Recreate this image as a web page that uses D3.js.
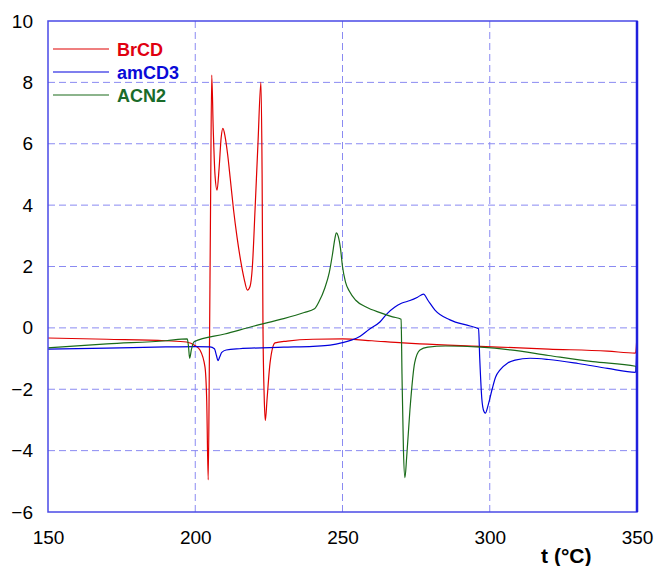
<!DOCTYPE html>
<meta charset="utf-8">
<script src="https://d3js.org/d3.v7.min.js"></script>
<style>
  body { margin: 0; background: #fff; }
  text { font-family: "Liberation Sans", Arial, sans-serif; }
</style>
<div id="my_dataviz"></div>
<script>
// tick labels
var xTicks = [150, 200, 250, 300, 350];
var yTicks = [-6, -4, -2, 0, 2, 4, 6, 8, 10];

// series names
var seriesNames = ["BrCD", "amCD3", "ACN2"];

// BrCD (red) - [t, value]
var brcd = [
  [150, -0.33], [170, -0.37], [190, -0.42], [197, -0.46], [200, -0.58], [201.6, -0.72],
  [203.3, -1.27], [203.9, -2.4], [204.4, -4.95], [204.8, -1.0], [205.2, 4.0], [205.6, 8.24],
  [206.1, 6.5], [206.7, 5.0], [207.4, 4.49], [208.1, 5.2], [208.8, 6.2], [209.4, 6.5],
  [210.1, 6.25], [211.0, 5.65], [211.9, 4.85], [213.0, 3.85], [214.2, 2.95], [215.4, 2.2],
  [216.6, 1.6], [217.7, 1.23], [218.6, 1.35], [219.4, 2.0], [220.3, 3.84], [221.3, 6.02],
  [222.3, 8.0], [222.7, 5.0], [223.0, 0.0],
  [223.4, -2.2], [223.8, -3.02], [224.4, -2.3], [225.4, -1.14], [227.1, -0.49], [231.2, -0.43],
  [240, -0.37], [250, -0.36], [260, -0.42], [270.5, -0.49], [276.3, -0.52], [296.7, -0.6],
  [320, -0.69], [340, -0.76], [349.5, -0.82], [350, -0.25]
];

// amCD3 (blue)
var amcd3 = [
  [150, -0.69], [170, -0.66], [190, -0.62], [200, -0.61], [205, -0.62], [206.5, -0.68],
  [207.2, -0.9], [207.7, -1.07], [208.3, -0.95], [209, -0.8], [210.5, -0.72], [215, -0.68],
  [230, -0.63], [240, -0.6], [245.8, -0.56], [250, -0.48], [253, -0.4], [256, -0.27],
  [259, -0.05], [262.7, 0.19], [265, 0.45], [267.8, 0.68], [270, 0.8], [272.9, 0.89],
  [275.5, 1.0], [277.5, 1.1], [279.0, 0.9], [281.4, 0.58], [286.5, 0.26], [293.3, 0.06],
  [296.2, -0.03], [296.6, -1.0], [297.3, -2.3], [298.0, -2.72], [298.5, -2.78], [299.5, -2.5],
  [300.8, -2.0], [302, -1.6], [303.5, -1.37], [306, -1.15], [308.6, -1.05], [313.7, -0.99],
  [320, -1.03], [330, -1.16], [340, -1.32], [349.5, -1.45], [350, -0.35]
];

// ACN2 (green)
var acn2 = [
  [150, -0.65], [170, -0.52], [190, -0.42], [197.3, -0.36], [197.7, -0.6], [198.1, -0.99],
  [198.7, -0.7], [199.6, -0.45], [210, -0.2], [220, 0.06], [230, 0.3], [237, 0.5],
  [240.5, 0.62], [242, 0.85], [244, 1.3], [245.5, 1.8], [246.6, 2.4], [247.4, 2.9],
  [247.9, 3.1], [248.5, 3.0], [249.3, 2.6], [250.0, 2.0], [251, 1.5], [252.3, 1.2],
  [254.5, 0.9], [258, 0.68], [263, 0.49], [267, 0.36], [269.9, 0.28], [270.2, -1.5],
  [270.7, -4.0], [271.2, -4.88], [271.8, -4.2], [272.9, -2.67], [274.5, -1.14], [276.3, -0.72],
  [279, -0.63], [285, -0.59], [297, -0.63], [307, -0.72], [320, -0.9], [335, -1.1],
  [349.5, -1.25], [350, -1.55]
];

var colors = ["#e00000", "#0000dd", "#1a6b1a"];
var textColors = ["#e00010", "#0a0ad8", "#1a6b2a"];

// dimensions
var margin = {top: 21, right: 19, bottom: 54, left: 48},
    width = 656 - margin.left - margin.right,
    height = 566 - margin.top - margin.bottom;

var svg = d3.select("#my_dataviz")
  .append("svg")
    .attr("width", 656)
    .attr("height", 566)
  .append("g")
    .attr("transform", "translate(" + margin.left + "," + margin.top + ")");

var x = d3.scaleLinear().domain([150, 350]).range([0, width]);
var y = d3.scaleLinear().domain([-6, 10]).range([height, 0]);

// gridlines
svg.append("g")
  .selectAll("line.vgrid")
  .data(xTicks.slice(1, -1))
  .enter().append("line")
    .attr("x1", function(d) { return x(d); })
    .attr("x2", function(d) { return x(d); })
    .attr("y1", 0).attr("y2", height)
    .attr("stroke", "#8a8af2")
    .attr("stroke-width", 1)
    .attr("stroke-dasharray", "7,4");

svg.append("g")
  .selectAll("line.hgrid")
  .data(yTicks.slice(1, -1))
  .enter().append("line")
    .attr("x1", 0).attr("x2", width)
    .attr("y1", function(d) { return y(d); })
    .attr("y2", function(d) { return y(d); })
    .attr("stroke", "#8a8af2")
    .attr("stroke-width", 1)
    .attr("stroke-dasharray", "7,4");

// axes labels (built from scales, domain lines hidden)
var yAxis = svg.append("g")
  .call(d3.axisLeft(y).tickValues(yTicks).tickSize(0).tickPadding(15));
yAxis.select(".domain").remove();
yAxis.selectAll("text").attr("font-size", "19px").attr("fill", "#000")
  .style("font-family", "'Liberation Sans', Arial, sans-serif");

var xAxis = svg.append("g")
  .attr("transform", "translate(0," + height + ")")
  .call(d3.axisBottom(x).tickValues(xTicks).tickSize(0).tickPadding(19));
xAxis.select(".domain").remove();
xAxis.selectAll("text").attr("font-size", "19px").attr("fill", "#000")
  .style("font-family", "'Liberation Sans', Arial, sans-serif");

// x axis title
svg.append("text")
  .attr("x", x(326))
  .attr("y", height + 51)
  .attr("text-anchor", "middle")
  .attr("font-size", "21px")
  .attr("font-weight", "bold")
  .text("t (°C)");

// lines
var line = d3.line()
  .x(function(d) { return x(d[0]); })
  .y(function(d) { return y(d[1]); })
  .curve(d3.curveMonotoneX);

var allSeries = [brcd, amcd3, acn2];
[0, 1, 2].forEach(function(i) {
  svg.append("path")
    .datum(allSeries[i])
    .attr("fill", "none")
    .attr("stroke", colors[i])
    .attr("stroke-width", 1.2)
    .attr("d", line);
});

// frame
svg.append("rect")
  .attr("x", 0).attr("y", 0)
  .attr("width", width).attr("height", height)
  .attr("fill", "none")
  .attr("stroke", "#4a4ae6")
  .attr("stroke-width", 1.5);
svg.append("line")
  .attr("x1", width).attr("x2", width)
  .attr("y1", 0).attr("y2", height)
  .attr("stroke", "#2020dd")
  .attr("stroke-width", 2.5);

// legend
var legend = svg.append("g").attr("transform", "translate(5,28)");
seriesNames.forEach(function(name, i) {
  legend.append("line")
    .attr("x1", 0).attr("x2", 56)
    .attr("y1", i * 23).attr("y2", i * 23)
    .attr("stroke", colors[i])
    .attr("stroke-width", 1.2);
  legend.append("text")
    .attr("x", 64)
    .attr("y", i * 23 + 6.5)
    .attr("font-size", "18px")
    .attr("font-weight", "bold")
    .attr("fill", textColors[i])
    .text(name);
});
</script>
